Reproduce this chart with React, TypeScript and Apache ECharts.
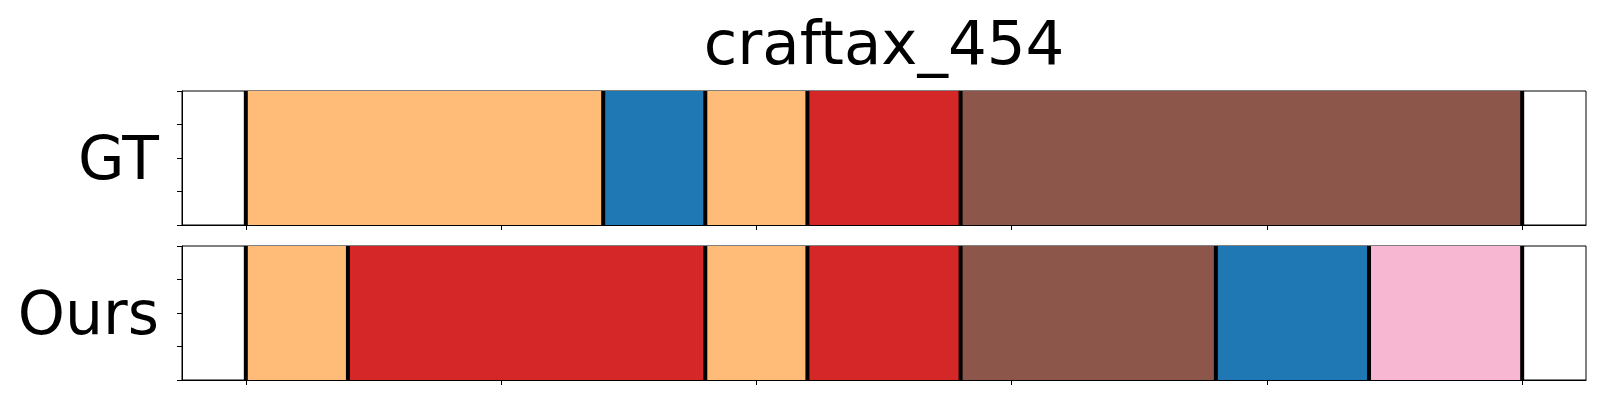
import React, { useEffect, useRef } from 'react';
import * as echarts from 'echarts';

const chartTitle = 'craftax_454';
const rowLabels = ['GT', 'Ours'];
const gtBoundaries = [0, 14, 18, 22, 28, 50];
const gtActions = ['orange', 'blue', 'orange', 'red', 'brown'];
const oursBoundaries = [0, 4, 18, 22, 28, 38, 44, 50];
const oursActions = ['orange', 'red', 'orange', 'red', 'brown', 'blue', 'pink'];
const xTicks = [0, 10, 20, 30, 40, 50];
const xRange = [-2.5, 52.5];

const palette: Record<string, string> = {
  orange: '#ffbb78',
  blue: '#1f77b4',
  red: '#d62728',
  brown: '#8c564b',
  pink: '#f7b6d2',
};

const FONT = 'DejaVu Sans';

function segData(bounds: number[], actions: string[]) {
  return actions.map((a, i) => ({
    value: [bounds[i], bounds[i + 1]],
    itemStyle: { color: palette[a] },
  }));
}

export default function App() {
  const ref = useRef<HTMLDivElement>(null);
  useEffect(() => {
    if (!ref.current) return;
    const chart = echarts.init(ref.current, undefined, { renderer: 'svg' });
    const gridLeft = 182;
    const gridWidth = 1404;
    const grids = [
      { left: gridLeft, top: 91, width: gridWidth, height: 134 },
      { left: gridLeft, top: 246, width: gridWidth, height: 134 },
    ].map((g) => ({ ...g, show: true, borderColor: '#000', borderWidth: 1, backgroundColor: 'transparent' }));

    const xAxes = [0, 1].map((i) => ({
      type: 'value',
      gridIndex: i,
      min: xRange[0],
      max: xRange[1],
      axisLine: { show: true, onZero: false, lineStyle: { color: '#000', width: 1 } },
      axisTick: { show: true, inside: false, length: 5, customValues: xTicks, lineStyle: { color: '#000', width: 1 } },
      axisLabel: { show: false },
      splitLine: { show: false },
    }));
    const yAxes = [0, 1].map((i) => ({
      type: 'value',
      gridIndex: i,
      min: 0,
      max: 1,
      interval: 0.25,
      name: rowLabels[i],
      nameLocation: 'middle',
      nameRotate: 0,
      nameGap: 23,
      nameTextStyle: { fontSize: 60, color: '#000', fontFamily: FONT, padding: [0, 0, 12, 0] },
      axisLine: { show: true, onZero: false, lineStyle: { color: '#000', width: 1 } },
      axisTick: { show: true, inside: false, length: 5, lineStyle: { color: '#000', width: 1 } },
      axisLabel: { show: false },
      splitLine: { show: false },
    }));

    const rectSeries = (i: number, bounds: number[], actions: string[]) => ({
      type: 'custom',
      xAxisIndex: i,
      yAxisIndex: i,
      z: 2,
      silent: true,
      data: segData(bounds, actions),
      renderItem: (params: any, api: any) => {
        const p0 = api.coord([api.value(0), 1]);
        const p1 = api.coord([api.value(1), 0]);
        return {
          type: 'rect',
          shape: { x: p0[0], y: p0[1], width: p1[0] - p0[0], height: p1[1] - p0[1] },
          style: { fill: api.visual('color') },
        };
      },
    });
    const lineSeries = (i: number, bounds: number[]) => ({
      type: 'custom',
      xAxisIndex: i,
      yAxisIndex: i,
      z: 3,
      silent: true,
      data: bounds.map((b) => [b, 0]),
      renderItem: (params: any, api: any) => {
        const p0 = api.coord([api.value(0), 1]);
        const p1 = api.coord([api.value(0), 0]);
        return {
          type: 'line',
          shape: { x1: p0[0], y1: p0[1], x2: p1[0], y2: p1[1] },
          style: { stroke: '#000', lineWidth: 4 },
        };
      },
    });

    chart.setOption({
      animation: false,
      backgroundColor: '#fff',
      grid: grids,
      xAxis: xAxes,
      yAxis: yAxes,
      graphic: [
        {
          type: 'text',
          x: gridLeft + gridWidth / 2,
          y: 42,
          style: {
            text: chartTitle,
            fontSize: 61,
            fontFamily: FONT,
            fill: '#000',
            textAlign: 'center',
            textVerticalAlign: 'middle',
            verticalAlign: 'middle',
          },
        },
      ],
      series: [
        rectSeries(0, gtBoundaries, gtActions),
        lineSeries(0, gtBoundaries),
        rectSeries(1, oursBoundaries, oursActions),
        lineSeries(1, oursBoundaries),
      ],
    } as any);
    return () => chart.dispose();
  }, []);
  return (
    <div
      ref={ref}
      style={{ position: 'fixed', left: 0, top: 0, width: 1600, height: 400, background: '#fff' }}
    />
  );
}
